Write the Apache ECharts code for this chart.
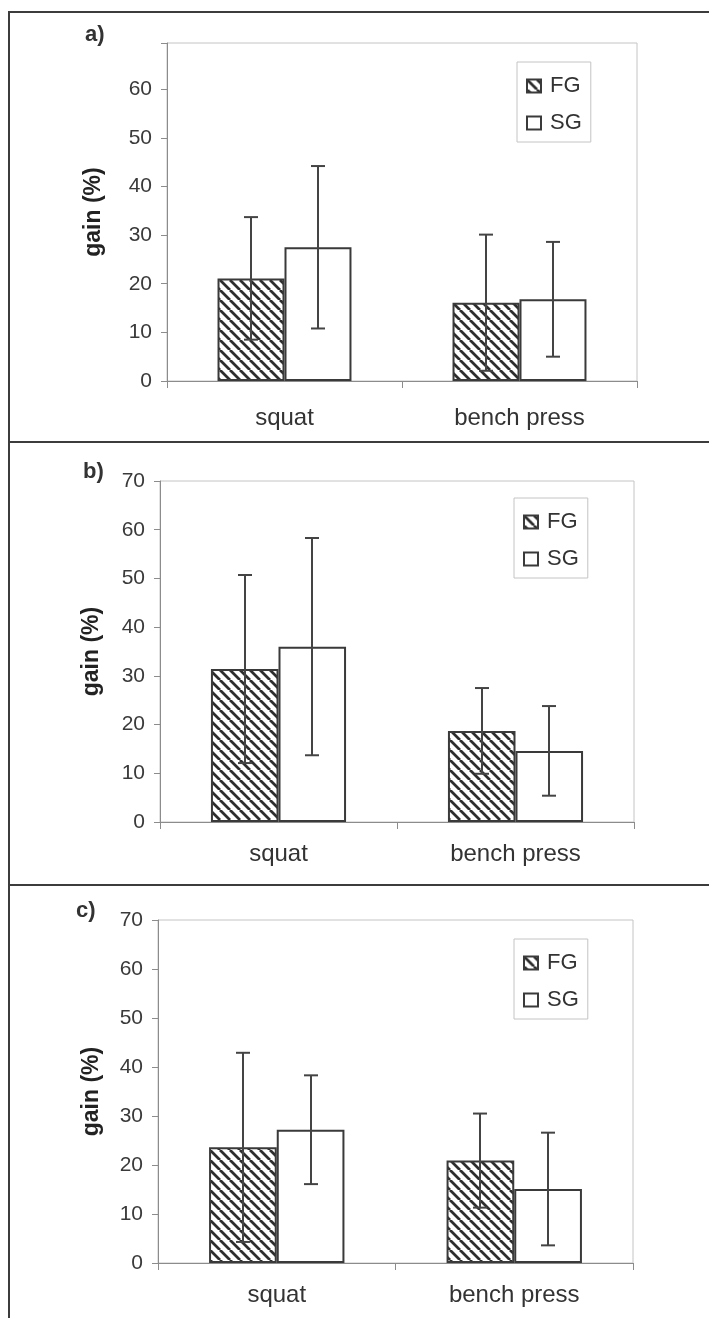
<!DOCTYPE html>
<html>
<head>
<meta charset="utf-8">
<script src="https://cdn.jsdelivr.net/npm/echarts@6/dist/echarts.min.js"></script>
<style>
  html, body { margin: 0; padding: 0; background: #fff; }
  #chart { width: 709px; height: 1318px; }
</style>
</head>
<body>
<div id="chart"></div>
<script>
// ---- data ----
const categories = ['squat', 'bench press'];
const seriesNames = ['FG', 'SG'];
const panelLabels = ['a)', 'b)', 'c)'];
const axisTitle = 'gain (%)';

// panel a
const fgA = [21.1, 16.1];
const fgSdA = [12.6, 14.0];
const sgA = [27.5, 16.8];
const sgSdA = [16.7, 11.8];
// panel b
const fgB = [31.4, 18.7];
const fgSdB = [19.3, 8.8];
const sgB = [36.0, 14.6];
const sgSdB = [22.3, 9.2];
// panel c
const fgC = [23.6, 20.9];
const fgSdC = [19.3, 9.6];
const sgC = [27.2, 15.1];
const sgSdC = [11.1, 11.5];

const yMax = [69.5, 70, 70];
const yInterval = 10;

// ---- styling / layout ----
const FONT = "'Liberation Sans', Arial, Helvetica, sans-serif";
const BAR_FRAC = 0.285;
const AXIS_COLOR = '#8c8c8c';
const FRAME_COLOR = '#c4c4c4';
const INK = '#3a3a3a';

function hatchCanvas() {
  const s = 10;
  const c = document.createElement('canvas');
  c.width = s; c.height = s;
  const g = c.getContext('2d');
  g.fillStyle = '#ffffff';
  g.fillRect(0, 0, s, s);
  g.strokeStyle = '#2e2e2e';
  g.lineWidth = 2.8;
  g.beginPath();
  for (const o of [-s, 0, s]) { g.moveTo(o, 0); g.lineTo(o + s, s); }
  g.stroke();
  return c;
}
const hatch = { image: hatchCanvas(), repeat: 'repeat' };

const panels = [
  { fg: fgA, fgSd: fgSdA, sg: sgA, sgSd: sgSdA,
    grid: { left: 167, right: 72, top: 43, height: 338 }, nameGap: 62, xMargin: 25,
    legend: { left: 517, top: 62 }, lab: [85, 37] },
  { fg: fgB, fgSd: fgSdB, sg: sgB, sgSd: sgSdB,
    grid: { left: 160, right: 75, top: 481, height: 341 }, nameGap: 57, xMargin: 20,
    legend: { left: 514, top: 498 }, lab: [83, 474] },
  { fg: fgC, fgSd: fgSdC, sg: sgC, sgSd: sgSdC,
    grid: { left: 158, right: 76, top: 920, height: 343 }, nameGap: 55, xMargin: 20,
    legend: { left: 514, top: 939 }, lab: [76, 913] }
];

function renderErr(params, api) {
  const ci = api.value(0), v = api.value(1), e = api.value(2), side = api.value(3);
  const band = api.size([1, 0])[0];
  const bw = band * BAR_FRAC;
  const c = api.coord([ci, v]);
  const x = Math.round(c[0] + side * bw / 2);
  const yt = api.coord([ci, v + e])[1];
  const yb = api.coord([ci, v - e])[1];
  const st = { stroke: '#444', lineWidth: 2 };
  const cap = 7;
  return {
    type: 'group',
    children: [
      { type: 'line', shape: { x1: x, y1: yt, x2: x, y2: yb }, style: st },
      { type: 'line', shape: { x1: x - cap, y1: yt, x2: x + cap, y2: yt }, style: st },
      { type: 'line', shape: { x1: x - cap, y1: yb, x2: x + cap, y2: yb }, style: st }
    ]
  };
}

const grids = [], xAxes = [], yAxes = [], series = [], legends = [], graphics = [];

panels.forEach((p, i) => {
  grids.push(Object.assign({ show: true, borderColor: FRAME_COLOR, borderWidth: 1,
    backgroundColor: 'transparent', containLabel: false, outerBoundsMode: 'none' }, p.grid));
  xAxes.push({
    gridIndex: i, type: 'category', data: categories,
    axisLine: { show: true, lineStyle: { color: AXIS_COLOR, width: 1 } },
    axisTick: { show: true, length: 7, lineStyle: { color: AXIS_COLOR } },
    axisLabel: { margin: p.xMargin, fontSize: 24, color: '#333', fontFamily: FONT },
    splitLine: { show: false }
  });
  yAxes.push({
    gridIndex: i, type: 'value', min: 0, max: yMax[i], interval: yInterval,
    name: axisTitle, nameLocation: 'middle', nameGap: p.nameGap, nameRotate: 90,
    nameTextStyle: { fontFamily: FONT, fontWeight: 'bold', fontSize: 23, color: '#222' },
    axisLine: { show: true, lineStyle: { color: AXIS_COLOR, width: 1 } },
    axisTick: { show: true, length: 6, lineStyle: { color: AXIS_COLOR } },
    axisLabel: { margin: 15, fontSize: 21, color: INK, fontFamily: FONT,
      formatter: v => (v % yInterval === 0 ? String(v) : '') },
    splitLine: { show: false }
  });
  const barBase = {
    type: 'bar', xAxisIndex: i, yAxisIndex: i,
    barWidth: (BAR_FRAC * 100) + '%', barGap: '0%',
    emphasis: { disabled: true }, silent: true, z: 2
  };
  series.push(Object.assign({}, barBase, {
    name: seriesNames[0], data: p.fg,
    itemStyle: { color: hatch, borderColor: INK, borderWidth: 2 }
  }));
  series.push(Object.assign({}, barBase, {
    name: seriesNames[1], data: p.sg,
    itemStyle: { color: '#ffffff', borderColor: INK, borderWidth: 2 }
  }));
  series.push({
    type: 'custom', name: 'FG sd', xAxisIndex: i, yAxisIndex: i, z: 5, silent: true,
    renderItem: renderErr, encode: { x: 0, y: 1 },
    data: p.fg.map((v, k) => [k, v, p.fgSd[k], -1])
  });
  series.push({
    type: 'custom', name: 'SG sd', xAxisIndex: i, yAxisIndex: i, z: 5, silent: true,
    renderItem: renderErr, encode: { x: 0, y: 1 },
    data: p.sg.map((v, k) => [k, v, p.sgSd[k], 1])
  });
  legends.push({
    show: true, orient: 'vertical', left: p.legend.left, top: p.legend.top,
    data: seriesNames, icon: 'rect', itemWidth: 14, itemHeight: 13, itemGap: 15,
    padding: [13, 9, 8, 9], borderColor: FRAME_COLOR, borderWidth: 1,
    backgroundColor: '#fff', selectedMode: false,
    textStyle: { fontSize: 22, color: '#333', fontFamily: FONT, padding: [0, 0, 0, 4] }
  });
  graphics.push({
    type: 'text', left: p.lab[0], top: p.lab[1] - 13,
    style: { text: panelLabels[i], font: 'bold 22px ' + FONT, fill: '#333' }
  });
});

// panel frame lines
const frameStyle = { stroke: '#3c3c3c', lineWidth: 2 };
[[9, 12, 709, 12], [9, 11, 9, 1318], [9, 442, 709, 442], [9, 885, 709, 885]].forEach(s => {
  graphics.push({ type: 'line', shape: { x1: s[0], y1: s[1], x2: s[2], y2: s[3] }, style: frameStyle, z: 100 });
});

const chart = echarts.init(document.getElementById('chart'), null, { renderer: 'canvas' });
chart.setOption({
  animation: false,
  backgroundColor: '#fff',
  grid: grids, xAxis: xAxes, yAxis: yAxes,
  legend: legends, series: series, graphic: graphics
});
</script>
</body>
</html>
